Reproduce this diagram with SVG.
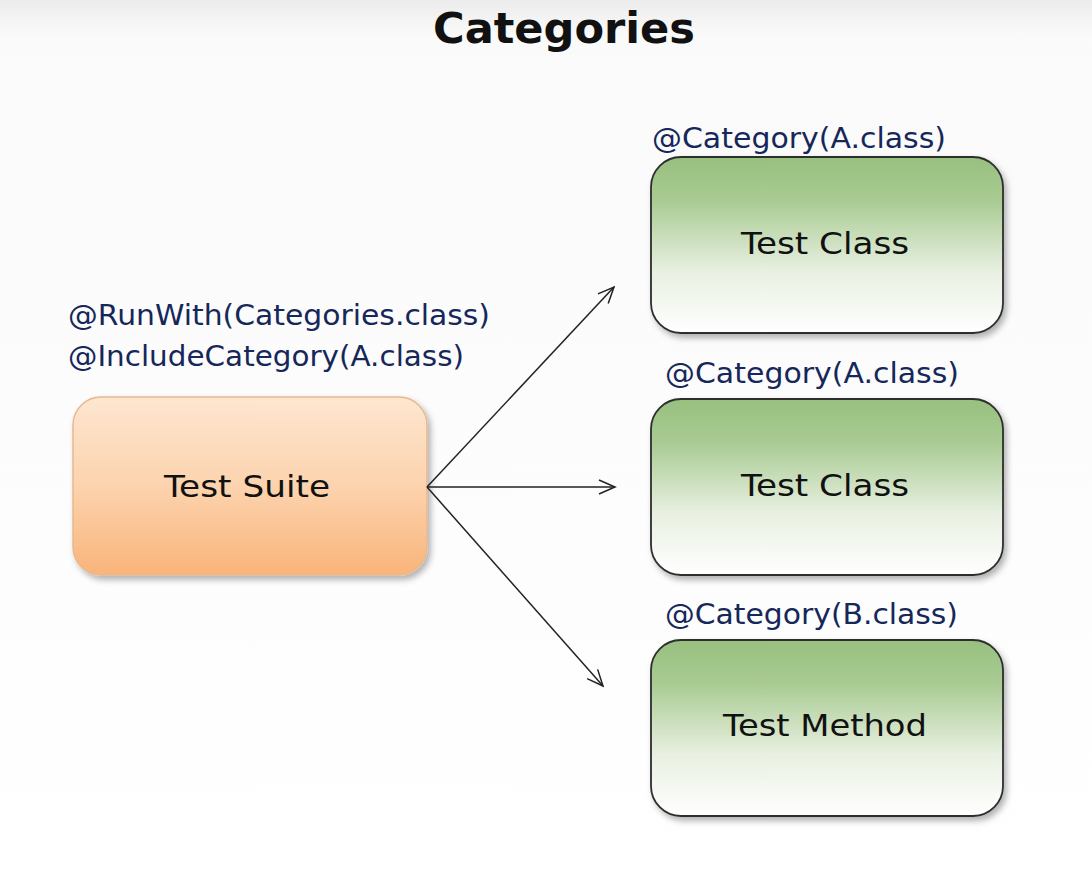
<svg xmlns="http://www.w3.org/2000/svg" width="1092" height="884" viewBox="0 0 1092 884">
<defs>
<linearGradient id="bg" x1="0" y1="0" x2="0" y2="1">
<stop offset="0" stop-color="#ececec"/><stop offset="0.04" stop-color="#fafafa"/><stop offset="1" stop-color="#ffffff"/>
</linearGradient>
<linearGradient id="og" x1="0" y1="0" x2="0" y2="1">
<stop offset="0" stop-color="#fde6d0"/><stop offset="0.5" stop-color="#fcd3ae"/><stop offset="1" stop-color="#f9b47a"/>
</linearGradient>
<linearGradient id="gg" x1="0" y1="0" x2="0" y2="1">
<stop offset="0" stop-color="#98c07e"/><stop offset="0.25" stop-color="#a9cb93"/><stop offset="0.65" stop-color="#e8f0e1"/><stop offset="1" stop-color="#ffffff"/>
</linearGradient>
<filter id="sh" x="-10%" y="-10%" width="125%" height="130%">
<feDropShadow dx="3" dy="4" stdDeviation="3" flood-color="#000" flood-opacity="0.3"/>
</filter>
<marker id="ar" viewBox="0 0 20 20" refX="18" refY="10" markerWidth="20" markerHeight="20" markerUnits="userSpaceOnUse" orient="auto">
<path d="M2,3 L18,10 L2,17" fill="none" stroke="#222" stroke-width="1.5"/>
</marker>
</defs>
<style>
.title{font-family:"DejaVu Sans",sans-serif;font-weight:bold;font-size:43px;fill:#111;}
.ann{font-family:"DejaVu Sans","Noto Sans",sans-serif;font-size:28px;fill:#16275a;}
.lbl{font-family:"DejaVu Sans","Noto Sans",sans-serif;font-size:30px;fill:#111;}
.green{fill:url(#gg);stroke:#2e2e2e;stroke-width:1.8;}
.orange{fill:url(#og);stroke:#e8b890;stroke-width:1.5;}
.conn{stroke:#222;stroke-width:1.5;fill:none;}
</style>
<rect width="1092" height="884" fill="url(#bg)"/>
<text class="title" x="564" y="43" text-anchor="middle" textLength="262" lengthAdjust="spacingAndGlyphs">Categories</text>

<g id="suite">
<text class="ann" x="68" y="325" textLength="422" lengthAdjust="spacingAndGlyphs">@RunWith(Categories.class)</text>
<text class="ann" x="68" y="366" textLength="396" lengthAdjust="spacingAndGlyphs">@IncludeCategory(A.class)</text>
<rect class="orange" x="73" y="397" width="354" height="178" rx="28" filter="url(#sh)"/>
<text class="lbl" x="247" y="497" text-anchor="middle" textLength="166" lengthAdjust="spacingAndGlyphs">Test Suite</text>
</g>

<g id="class1">
<text class="ann" x="652" y="148" textLength="294" lengthAdjust="spacingAndGlyphs">@Category(A.class)</text>
<rect class="green" x="651" y="157" width="352" height="176" rx="30" filter="url(#sh)"/>
<text class="lbl" x="825" y="254" text-anchor="middle" textLength="168" lengthAdjust="spacingAndGlyphs">Test Class</text>
</g>

<g id="class2">
<text class="ann" x="665" y="383" textLength="294" lengthAdjust="spacingAndGlyphs">@Category(A.class)</text>
<rect class="green" x="651" y="399" width="352" height="176" rx="30" filter="url(#sh)"/>
<text class="lbl" x="825" y="496" text-anchor="middle" textLength="168" lengthAdjust="spacingAndGlyphs">Test Class</text>
</g>

<g id="method">
<text class="ann" x="665" y="624" textLength="293" lengthAdjust="spacingAndGlyphs">@Category(B.class)</text>
<rect class="green" x="651" y="640" width="352" height="176" rx="30" filter="url(#sh)"/>
<text class="lbl" x="825" y="736" text-anchor="middle" textLength="204" lengthAdjust="spacingAndGlyphs">Test Method</text>
</g>

<g id="connectors">
<line class="conn" x1="427" y1="487" x2="614" y2="287" marker-end="url(#ar)"/>
<line class="conn" x1="427" y1="487" x2="615" y2="487" marker-end="url(#ar)"/>
<line class="conn" x1="427" y1="487" x2="603" y2="686" marker-end="url(#ar)"/>
</g>
</svg>
